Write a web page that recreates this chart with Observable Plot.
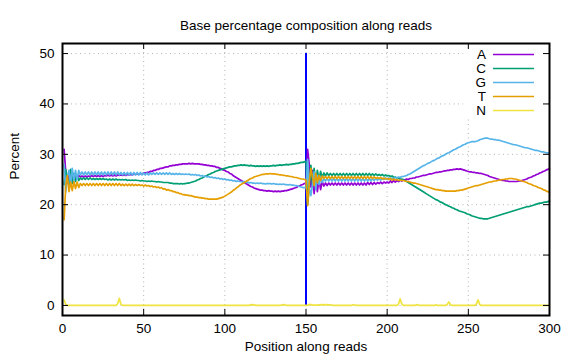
<!DOCTYPE html>
<html><head><meta charset="utf-8">
<script src="https://cdn.jsdelivr.net/npm/d3@7"></script>
<script src="https://cdn.jsdelivr.net/npm/@observablehq/plot@0.6"></script>
<style>body{margin:0;background:#fff}</style>
</head><body><div id="chart"></div>
<script>
const titleText = "Base percentage composition along reads";
const xLabelText = "Position along reads";
const yLabelText = "Percent";
const bases = ["A", "C", "G", "T", "N"];
const baseColors = ["#9400d3", "#009e73", "#56b4e9", "#e69f00", "#f0e442"];
const xTicks = [0, 50, 100, 150, 200, 250, 300];
const yTicks = [0, 10, 20, 30, 40, 50];
const readBoundary = [150];
const positions = d3.range(1, 301);

const pctA = [
31.0,26.4,24.2,26.6,24.8,26.1,25.0,25.9,25.3,25.8,
25.5,25.7,25.5,25.7,25.5,25.7,25.6,25.8,25.6,25.8,
25.6,25.8,25.6,25.8,25.6,25.8,25.7,25.9,25.7,25.9,
25.7,25.9,25.7,25.9,25.8,25.9,25.8,26.0,25.8,26.0,
25.9,26.0,25.9,26.1,26.0,26.1,26.0,26.2,26.1,26.3,
26.3,26.4,26.4,26.6,26.6,26.8,26.8,27.0,27.0,27.2,
27.2,27.3,27.4,27.5,27.5,27.7,27.7,27.8,27.8,27.9,
27.9,28.0,28.0,28.1,28.1,28.1,28.1,28.2,28.1,28.2,
28.1,28.1,28.1,28.1,28.0,28.0,27.9,27.9,27.8,27.8,
27.7,27.7,27.6,27.6,27.4,27.4,27.2,27.1,26.9,26.8,
26.6,26.5,26.2,26.1,25.8,25.6,25.4,25.2,25.0,24.8,
24.6,24.4,24.2,24.0,23.8,23.6,23.5,23.3,23.2,23.1,
23.0,22.9,22.9,22.8,22.8,22.7,22.8,22.7,22.7,22.6,
22.7,22.6,22.7,22.6,22.7,22.7,22.8,22.8,22.9,23.0,
23.1,23.2,23.3,23.4,23.6,23.7,23.9,24.0,24.2,24.3,
31.0,28.0,23.5,26.8,22.2,25.8,22.6,25.0,23.0,24.6,
23.7,24.3,23.8,24.3,23.9,24.3,23.9,24.3,23.9,24.3,
23.9,24.3,23.9,24.3,23.9,24.3,23.9,24.3,23.9,24.3,
23.9,24.3,23.9,24.3,23.9,24.3,23.9,24.4,24.0,24.4,
24.0,24.4,24.1,24.4,24.2,24.5,24.2,24.5,24.3,24.5,
24.3,24.7,24.4,24.8,24.5,24.8,24.6,24.9,24.7,25.0,
24.9,25.1,25.0,25.2,25.2,25.3,25.3,25.5,25.5,25.6,
25.7,25.8,25.8,25.9,26.0,26.1,26.1,26.2,26.3,26.4,
26.4,26.5,26.5,26.6,26.7,26.7,26.8,26.8,26.9,26.9,
27.0,27.0,27.1,27.0,27.1,27.0,26.9,26.8,26.7,26.6,
26.5,26.5,26.4,26.4,26.3,26.3,26.2,26.2,26.1,26.0,
25.9,25.8,25.6,25.5,25.4,25.3,25.2,25.1,25.0,24.9,
24.8,24.8,24.7,24.7,24.6,24.6,24.6,24.6,24.6,24.6,
24.7,24.7,24.8,24.9,25.0,25.1,25.3,25.4,25.5,25.7,
25.8,26.0,26.1,26.3,26.4,26.6,26.7,26.9,27.0,27.1];

const pctC = [
24.0,27.0,25.0,24.0,27.0,24.2,26.2,24.6,25.8,24.8,
25.3,25.0,25.3,25.0,25.3,25.0,25.3,25.0,25.2,25.0,
25.2,25.0,25.2,25.0,25.2,25.0,25.1,24.9,25.1,24.9,
25.1,24.9,25.1,24.9,25.0,24.9,25.0,24.9,25.0,24.8,
24.9,24.8,24.9,24.8,24.9,24.8,24.8,24.7,24.8,24.7,
24.7,24.6,24.7,24.6,24.7,24.6,24.6,24.5,24.6,24.5,
24.5,24.4,24.4,24.4,24.4,24.3,24.3,24.2,24.2,24.2,
24.2,24.1,24.2,24.1,24.2,24.2,24.3,24.3,24.4,24.5,
24.6,24.7,24.9,25.0,25.2,25.3,25.5,25.7,25.8,26.0,
26.1,26.3,26.4,26.6,26.7,26.8,26.9,27.0,27.1,27.2,
27.3,27.4,27.5,27.5,27.6,27.7,27.7,27.8,27.8,27.9,
27.8,27.9,27.8,27.8,27.7,27.8,27.7,27.7,27.6,27.7,
27.6,27.7,27.6,27.7,27.6,27.7,27.6,27.7,27.7,27.8,
27.7,27.8,27.8,27.9,27.8,27.9,27.9,28.0,27.9,28.0,
28.0,28.1,28.1,28.2,28.2,28.3,28.4,28.4,28.5,28.6,
20.0,23.5,27.8,24.0,27.2,24.6,26.8,25.0,26.6,25.4,
26.3,25.7,26.3,25.8,26.2,25.8,26.2,25.8,26.2,25.8,
26.2,25.8,26.2,25.8,26.2,25.8,26.2,25.8,26.2,25.8,
26.2,25.8,26.2,25.8,26.2,25.8,26.2,25.8,26.2,25.8,
26.1,25.8,26.1,25.8,26.0,25.8,26.0,25.7,25.9,25.7,
25.8,25.6,25.7,25.4,25.5,25.3,25.3,25.1,25.1,24.9,
24.8,24.6,24.4,24.2,24.0,23.8,23.6,23.4,23.2,23.0,
22.8,22.6,22.4,22.2,22.0,21.8,21.6,21.4,21.2,21.0,
20.9,20.7,20.5,20.4,20.2,20.0,19.9,19.7,19.6,19.4,
19.3,19.1,19.0,18.8,18.7,18.6,18.5,18.4,18.2,18.1,
18.0,17.8,17.7,17.6,17.5,17.4,17.3,17.3,17.2,17.2,
17.2,17.2,17.3,17.4,17.5,17.6,17.7,17.8,17.9,18.0,
18.1,18.2,18.3,18.4,18.5,18.6,18.7,18.8,18.9,19.0,
19.1,19.2,19.3,19.4,19.5,19.6,19.6,19.7,19.8,19.9,
20.0,20.1,20.2,20.3,20.3,20.4,20.5,20.5,20.6,20.7];

const pctG = [
28.0,22.5,25.5,26.8,24.0,27.2,24.8,26.8,25.0,26.8,
25.9,26.5,25.9,26.5,25.9,26.5,25.9,26.5,25.9,26.5,
25.9,26.5,25.9,26.5,25.9,26.5,25.9,26.5,25.9,26.5,
25.9,26.5,25.9,26.5,25.9,26.4,25.9,26.4,25.9,26.4,
25.9,26.4,25.9,26.4,25.9,26.4,25.9,26.4,25.9,26.3,
25.9,26.3,25.9,26.3,26.0,26.3,26.0,26.3,26.0,26.3,
26.0,26.3,26.0,26.3,26.0,26.3,26.0,26.2,26.0,26.2,
26.0,26.2,26.0,26.1,26.0,26.1,26.0,26.1,25.9,26.0,
25.9,26.0,25.8,25.9,25.7,25.8,25.6,25.7,25.5,25.6,
25.4,25.5,25.3,25.4,25.2,25.3,25.1,25.2,25.0,25.1,
24.9,25.0,24.8,24.9,24.7,24.8,24.6,24.7,24.6,24.6,
24.5,24.6,24.4,24.5,24.3,24.4,24.3,24.3,24.2,24.3,
24.2,24.3,24.2,24.2,24.1,24.2,24.2,24.2,24.1,24.2,
24.1,24.1,24.0,24.1,24.0,24.1,24.0,24.0,23.9,24.0,
23.9,23.9,23.8,23.8,23.7,23.6,23.5,23.4,23.4,23.3,
29.0,23.5,21.8,24.0,26.5,23.0,25.8,24.0,25.5,24.4,
25.2,24.7,25.2,24.7,25.2,24.7,25.2,24.7,25.2,24.7,
25.2,24.7,25.2,24.7,25.2,24.7,25.2,24.7,25.2,24.7,
25.2,24.7,25.2,24.7,25.2,24.7,25.2,24.7,25.2,24.7,
25.2,24.8,25.2,24.9,25.2,24.9,25.2,25.0,25.3,25.0,
25.3,25.1,25.3,25.2,25.4,25.3,25.5,25.4,25.6,25.6,
25.7,25.8,26.0,26.1,26.3,26.5,26.7,26.9,27.1,27.3,
27.5,27.7,27.8,28.0,28.2,28.3,28.5,28.7,28.8,29.0,
29.2,29.3,29.5,29.7,29.8,30.0,30.2,30.3,30.5,30.7,
30.9,31.0,31.2,31.4,31.5,31.7,31.9,32.0,32.2,32.3,
32.4,32.5,32.5,32.5,32.6,32.7,32.9,33.0,33.1,33.2,
33.2,33.2,33.1,33.0,33.0,32.9,32.9,32.8,32.8,32.7,
32.6,32.5,32.4,32.3,32.2,32.1,32.0,31.9,31.9,31.8,
31.7,31.6,31.5,31.4,31.3,31.3,31.2,31.1,31.0,30.9,
30.8,30.8,30.7,30.6,30.5,30.5,30.4,30.3,30.3,30.2];

const pctT = [
17.0,23.8,25.8,22.6,24.5,22.8,24.6,23.2,24.5,23.4,
24.2,23.8,24.2,23.8,24.2,23.8,24.2,23.8,24.2,23.8,
24.2,23.8,24.2,23.8,24.2,23.8,24.2,23.8,24.2,23.8,
24.2,23.8,24.2,23.8,24.2,23.8,24.1,23.8,24.1,23.8,
24.1,23.8,24.1,23.8,24.0,23.8,24.0,23.8,23.9,23.7,
23.9,23.7,23.8,23.6,23.7,23.5,23.6,23.4,23.5,23.3,
23.4,23.1,23.2,22.9,23.0,22.8,22.8,22.6,22.6,22.4,
22.4,22.2,22.2,22.0,22.0,21.9,21.9,21.8,21.8,21.7,
21.6,21.5,21.5,21.4,21.4,21.3,21.3,21.2,21.2,21.1,
21.1,21.1,21.1,21.1,21.1,21.2,21.3,21.4,21.5,21.7,
21.9,22.1,22.3,22.5,22.8,23.0,23.3,23.5,23.8,24.0,
24.2,24.4,24.6,24.8,25.0,25.2,25.3,25.5,25.6,25.7,
25.8,25.9,26.0,26.0,26.1,26.1,26.1,26.2,26.1,26.1,
26.1,26.0,26.0,25.9,25.9,25.8,25.8,25.7,25.7,25.6,
25.6,25.5,25.4,25.4,25.3,25.2,25.1,25.1,25.0,24.9,
19.8,24.5,27.2,25.5,23.8,26.2,24.4,25.8,24.8,25.7,
25.2,25.6,25.2,25.6,25.2,25.6,25.2,25.6,25.2,25.6,
25.2,25.6,25.2,25.6,25.2,25.6,25.2,25.6,25.2,25.6,
25.2,25.6,25.2,25.6,25.2,25.6,25.2,25.6,25.2,25.6,
25.2,25.5,25.2,25.4,25.2,25.4,25.1,25.3,25.1,25.2,
25.0,25.2,24.9,25.1,24.9,25.0,24.8,24.9,24.8,24.8,
24.7,24.6,24.6,24.5,24.4,24.3,24.3,24.2,24.1,24.0,
23.9,23.8,23.7,23.6,23.5,23.4,23.3,23.2,23.1,23.0,
23.0,22.9,22.9,22.8,22.8,22.7,22.7,22.7,22.7,22.7,
22.7,22.7,22.8,22.8,22.9,22.9,23.0,23.1,23.2,23.3,
23.4,23.5,23.6,23.7,23.8,23.8,23.9,24.0,24.1,24.2,
24.3,24.4,24.5,24.5,24.6,24.7,24.7,24.8,24.9,24.9,
25.0,25.0,25.1,25.1,25.2,25.2,25.2,25.1,25.1,25.0,
24.9,24.8,24.7,24.6,24.5,24.4,24.2,24.1,24.0,23.8,
23.7,23.6,23.4,23.3,23.2,23.0,22.9,22.7,22.6,22.4];

const pctN = [
1.1,0.2,0,0,0,0,0,0,0,0,
0,0,0,0,0,0,0,0,0,0,
0,0,0,0,0,0,0,0,0,0,
0,0,0,0.4,1.4,0.25,0,0,0,0,
0,0,0,0,0,0,0,0,0,0,
0,0,0,0,0,0,0,0,0,0,
0,0,0,0,0,0,0,0,0,0,
0,0,0,0,0,0,0,0,0,0,
0,0,0,0,0,0,0,0,0,0,
0,0,0,0,0,0,0,0,0,0,
0,0,0,0,0,0,0,0,0,0,
0,0,0,0,0,0.1,0.15,0.1,0,0,
0,0,0,0,0,0,0,0,0,0,
0,0,0,0,0.08,0.15,0.12,0,0,0,
0,0,0,0,0,0,0,0,0,0,
0,0.2,0.15,0.05,0.05,0.05,0.05,0.1,0.15,0.1,
0.15,0.1,0.15,0.1,0.12,0.05,0,0,0,0,
0,0,0,0,0,0,0,0,0.12,0.08,
0,0,0,0,0,0,0,0,0,0,
0,0,0,0,0,0,0,0,0,0,
0,0,0,0,0,0,0.3,1.3,0.3,0,
0,0,0,0,0,0,0,0.15,0.08,0,
0,0,0,0,0,0,0,0,0,0.12,
0,0,0,0,0,0,0.2,0.7,0.15,0,
0,0,0,0,0,0,0,0,0,0,
0,0,0,0,0.3,1.1,0.2,0,0,0,
0,0,0,0,0,0,0,0,0,0,
0,0,0,0,0,0,0,0,0,0,
0,0,0,0,0,0,0,0,0,0,
0,0,0,0,0,0,0,0,0,0];

const series = [pctA, pctC, pctG, pctT, pctN];
const rows = [];
bases.forEach((b, bi) => series[bi].forEach((v, i) => rows.push({pos: positions[i], base: b, pct: v})));

const font = "'Liberation Sans', Arial, sans-serif";
const xDom = [0, 300], yDom = [-2, 52];

const chart = Plot.plot({
  width: 576, height: 360,
  marginLeft: 62, marginRight: 27, marginTop: 43, marginBottom: 45,
  style: {fontFamily: font, fontSize: "13.5px", background: "#fff", color: "#000"},
  x: {domain: xDom, ticks: xTicks, tickSize: 0, tickPadding: 8, label: null},
  y: {domain: yDom, ticks: yTicks, tickSize: 0, tickPadding: 8, label: null},
  color: {domain: bases, range: baseColors},
  marks: [
    Plot.gridX(xTicks.slice(1, -1), {stroke: "#b4b4b4", strokeOpacity: 1, strokeDasharray: "1,3.5"}),
    Plot.gridY(yTicks, {stroke: "#b4b4b4", strokeOpacity: 1, strokeDasharray: "1,3.5"}),
    Plot.frame({fill: "#fff", stroke: null, insetLeft: 401, insetRight: 2, insetTop: 2, insetBottom: 197}),
    Plot.ruleX(readBoundary, {y1: 0, y2: 50, stroke: "#0000ff", strokeWidth: 2}),
    Plot.line(rows, {x: "pos", y: "pct", z: "base", stroke: "base", strokeWidth: 1.7}),
    Plot.ruleX(xTicks, {y1: yDom[0], y2: yDom[0], insetBottom: 6, stroke: "#000"}),
    Plot.ruleX(xTicks, {y1: yDom[1], y2: yDom[1], insetTop: 6, stroke: "#000"}),
    Plot.ruleY(yTicks, {x1: xDom[0], x2: xDom[0], insetLeft: 6, stroke: "#000"}),
    Plot.ruleY(yTicks, {x1: xDom[1], x2: xDom[1], insetRight: 6, stroke: "#000"}),
    Plot.frame({stroke: "#000", strokeWidth: 2}),
    Plot.text([titleText], {frameAnchor: "top", dy: -23, fontSize: 13.5}),
    Plot.text([xLabelText], {frameAnchor: "bottom", dy: 35, fontSize: 13.5}),
    Plot.text([yLabelText], {frameAnchor: "left", dx: -48, rotate: -90, fontSize: 13.5})
  ]
});
document.getElementById("chart").appendChild(chart);

const svg = d3.select(chart);
const lg = svg.append("g").attr("font-family", font).attr("font-size", 13.5);
bases.forEach((b, i) => {
  const y = 54.5 + 14 * i;
  lg.append("text").attr("x", 486).attr("y", y).attr("dy", "0.35em").attr("text-anchor", "end").attr("fill", "#000").text(b);
  lg.append("line").attr("x1", 493).attr("x2", 534).attr("y1", y).attr("y2", y).attr("stroke", baseColors[i]).attr("stroke-width", 1.7);
});
</script>
</body></html>
